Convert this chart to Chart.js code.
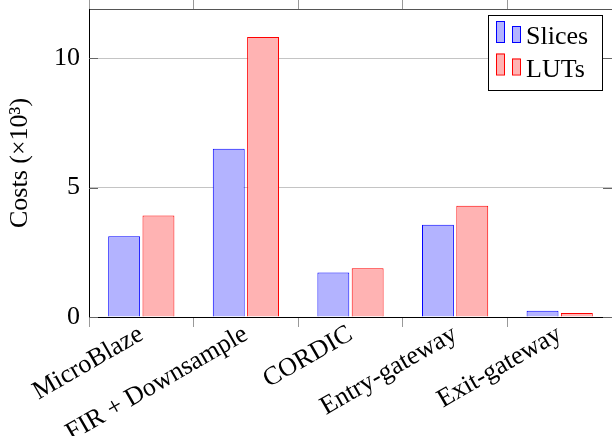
<!DOCTYPE html>
<html>
<head>
<meta charset="utf-8">
<script src="https://cdn.jsdelivr.net/npm/chart.js@4.4.0/dist/chart.umd.min.js"></script>
<style>
  html, body { margin: 0; padding: 0; background: #fff; }
  #wrap { width: 612px; height: 436px; }
</style>
</head>
<body>
<div id="wrap"><canvas id="myChart"></canvas></div>
<script>
const categories = ['MicroBlaze', 'FIR + Downsample', 'CORDIC', 'Entry-gateway', 'Exit-gateway']
const slices = [3.12, 6.50, 1.72, 3.56, 0.24]
const luts = [3.92, 10.82, 1.88, 4.30, 0.15]
const yTicks = [0, 5, 10]

Chart.defaults.font.family = '"Liberation Serif", "Times New Roman", serif'
Chart.defaults.font.size = 26
Chart.defaults.color = '#000'

// pgfplots-style tick marks pointing into the plot
const innerTicks = {
  id: 'innerTicks',
  afterDatasetsDraw(chart) {
    const { ctx, chartArea } = chart
    const y = chart.scales.y
    ctx.save()
    ctx.strokeStyle = '#666'
    ctx.lineWidth = 1
    y.ticks.forEach(t => {
      const py = Math.round(y.getPixelForValue(t.value)) + 0.5
      ctx.beginPath()
      ctx.moveTo(chartArea.left, py)
      ctx.lineTo(chartArea.left + 9, py)
      ctx.moveTo(chartArea.right - 9, py)
      ctx.lineTo(chartArea.right, py)
      ctx.stroke()
    })
    ctx.restore()
  }
}

const legendBox = {
  id: 'legendBox',
  afterDraw(chart) {
    const { ctx, chartArea } = chart
    const x = chartArea.right - 124
    const y = chartArea.top + 6
    ctx.save()
    ctx.fillStyle = '#fff'
    ctx.fillRect(x, y, 114, 75)
    ctx.strokeStyle = '#000'
    ctx.lineWidth = 1
    ctx.strokeRect(x + 0.5, y + 0.5, 114, 75)
    chart.data.datasets.forEach((ds, i) => {
      const top = y + 6 + i * 32.5
      ctx.fillStyle = ds.backgroundColor
      ctx.strokeStyle = ds.borderColor
      ctx.fillRect(x + 8, top, 8, 21)
      ctx.strokeRect(x + 8.5, top + 0.5, 8, 21)
      ctx.fillRect(x + 24, top + 5, 8, 16)
      ctx.strokeRect(x + 24.5, top + 5.5, 8, 16)
      ctx.fillStyle = '#000'
      ctx.font = '26px "Liberation Serif", serif'
      ctx.textBaseline = 'alphabetic'
      ctx.fillText(ds.label, x + 38, top + 23)
    })
    ctx.restore()
  }
}

const ctx = document.getElementById('myChart')

new Chart(ctx, {
  type: 'bar',
  data: {
    labels: categories,
    datasets: [{
      label: 'Slices',
      data: slices,
      backgroundColor: 'rgb(179,179,255)',
      borderColor: 'rgb(0,0,255)',
      borderWidth: 1
    }, {
      label: 'LUTs',
      data: luts,
      backgroundColor: 'rgb(255,179,179)',
      borderColor: 'rgb(255,0,0)',
      borderWidth: 1
    }]
  },
  options: {
    responsive: true,
    maintainAspectRatio: false,
    animation: false,
    categoryPercentage: 0.656,
    barPercentage: 0.93,
    layout: { padding: 0 },
    plugins: {
      legend: { display: false },
      tooltip: { enabled: false }
    },
    scales: {
      x: {
        position: 'bottom',
        offset: true,
        grid: { drawOnChartArea: false, tickLength: 10, color: '#999' },
        border: { color: '#000', width: 1 },
        ticks: { minRotation: 30, maxRotation: 30, autoSkip: false, padding: -8 },
        afterFit(scale) {
          scale.height = 119
          scale.paddingLeft = 0
          scale.paddingRight = 0
        }
      },
      x2: {
        type: 'category',
        labels: categories,
        position: 'top',
        offset: true,
        grid: { drawOnChartArea: false, tickLength: 9, color: '#999' },
        border: { color: '#555', width: 1 },
        ticks: { display: false },
        afterFit(scale) { scale.height = 9 }
      },
      y: {
        min: 0,
        max: 11.9,
        grid: { color: '#c4c4c4', drawTicks: false },
        border: { color: '#000', width: 1 },
        ticks: { stepSize: 5, padding: 9 },
        afterBuildTicks(scale) {
          scale.ticks = yTicks.map(v => ({ value: v }))
        },
        title: { display: true, text: 'Costs (×10³)', padding: { top: 5, bottom: 0 } },
        afterFit(scale) {
          scale.width = 89
          scale.paddingTop = 0
          scale.paddingBottom = 0
        }
      }
    }
  },
  plugins: [innerTicks, legendBox]
})
</script>
</body>
</html>
